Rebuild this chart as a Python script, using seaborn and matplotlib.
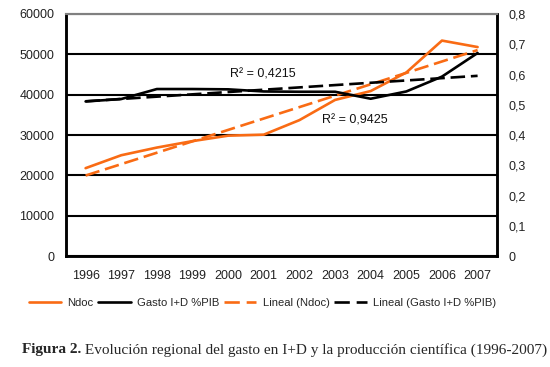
import numpy as np
import pandas as pd
import matplotlib
matplotlib.use("Agg")
import matplotlib.pyplot as plt
import seaborn as sns
from matplotlib.lines import Line2D
from matplotlib.ticker import FuncFormatter

sns.set_theme(style="white")
plt.rcParams['font.family'] = ['Liberation Sans', 'DejaVu Sans']

years = [1996, 1997, 1998, 1999, 2000, 2001, 2002, 2003, 2004, 2005, 2006, 2007]
ndoc = [21800, 25000, 26900, 28500, 29850, 30100, 33700, 38700, 40900, 45500, 53400, 51800]
gasto = [0.511, 0.519, 0.552, 0.552, 0.551, 0.544, 0.543, 0.543, 0.520, 0.544, 0.593, 0.671]
left_ticks = [0, 10000, 20000, 30000, 40000, 50000, 60000]
right_ticks = [0, 0.1, 0.2, 0.3, 0.4, 0.5, 0.6, 0.7, 0.8]
r2_ndoc_label = "R² = 0,9425"
r2_gasto_label = "R² = 0,4215"
legend_labels = ["Ndoc", "Gasto I+D %PIB", "Lineal (Ndoc)", "Lineal (Gasto I+D %PIB)"]
caption_bold = "Figura 2."
caption_rest = " Evolución regional del gasto en I+D y la producción científica (1996-2007)"

orange = "#F96B14"
black = "#000000"
lw = 1.9
dash = (5.5, 2.2)

x = np.array(years, dtype=float)
pn = np.polyfit(x, ndoc, 1)
pg = np.polyfit(x, gasto, 1)
df = pd.DataFrame({"year": years, "ndoc": ndoc, "gasto": gasto,
                   "ndoc_fit": np.polyval(pn, x), "gasto_fit": np.polyval(pg, x)})

fig = plt.figure(figsize=(5.5, 3.67), dpi=100)
ax = fig.add_axes([0.12, 0.302, 0.784, 0.66])
ax2 = ax.twinx()

# grid lines on left axis
for t in left_ticks:
    ax.axhline(t, color="black" if t < 60000 else "#808080", lw=1.5, zorder=0)

sns.lineplot(data=df, x="year", y="ndoc", ax=ax, color=orange, lw=lw)
sns.lineplot(data=df, x="year", y="ndoc_fit", ax=ax, color=orange, lw=lw)
ax.lines[-1].set_dashes(dash)
sns.lineplot(data=df, x="year", y="gasto", ax=ax2, color=black, lw=lw)
sns.lineplot(data=df, x="year", y="gasto_fit", ax=ax2, color=black, lw=lw)
ax2.lines[-1].set_dashes(dash)

ax.set_xlim(1995.45, 2007.55)
ax.set_ylim(0, 60000)
ax2.set_ylim(0, 0.8)
ax.set_xticks(years)
ax.set_xticklabels([str(y) for y in years])
ax.set_yticks(left_ticks)
ax.set_yticklabels([str(t) for t in left_ticks])
ax2.set_yticks(right_ticks)
ax2.yaxis.set_major_formatter(FuncFormatter(lambda v, p: "0" if v == 0 else f"{v:.1f}".replace(".", ",")))
for a in (ax, ax2):
    a.set_xlabel("")
    a.set_ylabel("")
    a.tick_params(axis="both", labelsize=9, length=0, colors="#222222")
ax.tick_params(axis="x", pad=10)
ax.tick_params(axis="y", pad=8.5)
ax2.tick_params(axis="y", pad=8)

for a in (ax, ax2):
    for s in ["left", "right", "bottom"]:
        a.spines[s].set_color("black")
        a.spines[s].set_linewidth(1.8)
    a.spines["top"].set_color("#808080")
    a.spines["top"].set_linewidth(1.5)

ax.text(2000.05, 44900, r2_gasto_label, fontsize=9, va="center", ha="left", color="#111111")
ax.text(2002.63, 33700, r2_ndoc_label, fontsize=9, va="center", ha="left", color="#111111")

handles = [Line2D([], [], color=orange, lw=lw),
           Line2D([], [], color=black, lw=lw),
           Line2D([], [], color=orange, lw=lw, dashes=(5.8, 2.6)),
           Line2D([], [], color=black, lw=lw, dashes=(5.8, 2.6))]
fig.legend(handles, legend_labels, loc="center", bbox_to_anchor=(0.477, 0.174), ncol=4,
           frameon=False, fontsize=8.1, handlelength=2.9, handletextpad=0.55,
           columnspacing=0.4, borderpad=0)

cy = 1 - 350 / 367
fig.text(0.04, cy, caption_bold, fontsize=11, fontweight="bold",
         family="Liberation Serif", va="center", ha="left")
t = fig.text(0.04, cy, " ", fontsize=11, family="Liberation Serif", va="center")
fig.canvas.draw()
r = fig.canvas.get_renderer()
bb = fig.texts[0].get_window_extent(r)
x0 = bb.x1 / fig.bbox.width
t.set_position((x0, cy))
t.set_text(caption_rest)

fig.savefig("out.png", dpi=100)
